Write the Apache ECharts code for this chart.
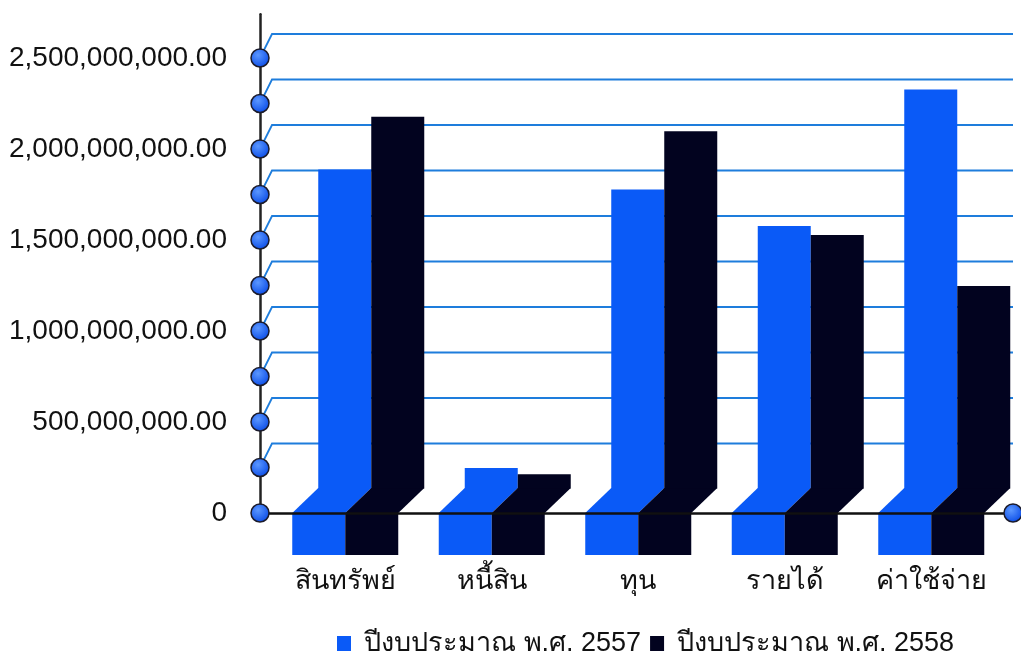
<!DOCTYPE html>
<html><head><meta charset="utf-8">
<script src="https://cdn.jsdelivr.net/npm/echarts@6/dist/echarts.min.js"></script>
<style>html,body{margin:0;padding:0;background:#fff}#c{width:1021px;height:655px}</style>
</head><body><div id="c"></div>
<script>
// ---- data ----
const categories = ['สินทรัพย์', 'หนี้สิน', 'ทุน', 'รายได้', 'ค่าใช้จ่าย'];
const seriesNames = ['ปีงบประมาณ พ.ศ. 2557', 'ปีงบประมาณ พ.ศ. 2558'];
const budget2557 = [1750000000, 110000000, 1640000000, 1440000000, 2190000000];
const budget2558 = [2040000000, 75000000, 1960000000, 1390000000, 1110000000];
const tickValues = [0, 250000000, 500000000, 750000000, 1000000000, 1250000000,
  1500000000, 1750000000, 2000000000, 2250000000, 2500000000];
const labelValues = [0, 500000000, 1000000000, 1500000000, 2000000000, 2500000000];

// ---- styling constants ----
const BLUE = '#0a5af7';
const DARK = '#02031f';
const GRID_BLUE = '#1e7ddc';
const FONT = "'Liberation Sans', Arial, 'Noto Sans', sans-serif";
const Y_MAX = 2740000000;
const GRID_TOP = 14.3, GRID_H = 498.7;
const BAR_W = 53, DX = 26, DY = 25, DEPTH = 42;

const chart = echarts.init(document.getElementById('c'), null, {renderer: 'canvas'});

function fmt(v) {
  if (v === 0) return '0';
  if (labelValues.indexOf(v) < 0) return '';
  return v.toLocaleString('en-US', {minimumFractionDigits: 2, maximumFractionDigits: 2});
}

function barRenderer(s, color) {
  return function (params, api) {
    const i = api.value(0);
    const base = api.coord([i, 0]);
    const top = api.coord([i, api.value(1)]);
    const cx = base[0], y0 = base[1], yt = top[1];
    const x0 = cx - BAR_W + s * BAR_W;
    const st = {fill: color};
    return {
      type: 'group',
      children: [
        {type: 'rect', shape: {x: x0, y: y0, width: BAR_W, height: DEPTH}, style: st},
        {type: 'polygon', shape: {points: [[x0, y0], [x0 + BAR_W, y0], [x0 + BAR_W + DX, y0 - DY], [x0 + DX, y0 - DY]]}, style: st},
        {type: 'rect', shape: {x: x0 + DX, y: yt - DY, width: BAR_W, height: Math.max(0, y0 - yt) + 0.5}, style: st}
      ]
    };
  };
}

const markerFill = new echarts.graphic.RadialGradient(0.4, 0.35, 0.7, [
  {offset: 0, color: '#5b97ff'}, {offset: 1, color: '#0648e6'}
]);

const option = {
  backgroundColor: '#ffffff',
  animation: false,
  textStyle: {fontFamily: FONT},
  legend: {
    data: seriesNames,
    left: 332, top: 625,
    icon: 'rect', itemWidth: 14, itemHeight: 15, itemGap: 9,
    textStyle: {fontSize: 27, color: '#111', fontFamily: FONT, padding: [0, 0, 0, 8]}
  },
  grid: [
    {left: 260, right: 8, top: GRID_TOP, height: GRID_H},
    {left: 272, width: 732.5, top: GRID_TOP, height: GRID_H}
  ],
  xAxis: [
    {gridIndex: 0, type: 'value', min: 0, max: 1, z: 5,
      axisLine: {show: true, lineStyle: {color: '#111', width: 2.5}},
      axisTick: {show: false}, axisLabel: {show: false}, splitLine: {show: false}},
    {gridIndex: 1, type: 'category', data: categories,
      axisLine: {show: false}, axisTick: {show: false}, splitLine: {show: false},
      axisLabel: {interval: 0, margin: 55, fontSize: 27, color: '#111', fontFamily: FONT}}
  ],
  yAxis: [
    {gridIndex: 0, type: 'value', min: 0, max: Y_MAX, interval: 250000000, z: 1,
      axisLine: {show: true, lineStyle: {color: '#222', width: 2.5}},
      axisTick: {show: false}, splitLine: {show: false},
      axisLabel: {margin: 33, fontSize: 28, color: '#111', fontFamily: FONT, formatter: fmt}},
    {gridIndex: 1, type: 'value', min: 0, max: Y_MAX, interval: 250000000, show: false}
  ],
  series: [
    {
      type: 'custom', name: 'grid', xAxisIndex: 0, yAxisIndex: 0, z: 1, silent: true,
      data: tickValues.filter(v => v > 0).map(v => [0, v]),
      renderItem: function (params, api) {
        const p = api.coord([0, api.value(1)]);
        const right = params.coordSys.x + params.coordSys.width;
        return {
          type: 'polyline',
          shape: {points: [[p[0], p[1]], [p[0] + 12, p[1] - 24], [right, p[1] - 24]]},
          style: {stroke: GRID_BLUE, lineWidth: 1.8, fill: null}
        };
      }
    },
    {
      type: 'custom', name: seriesNames[0], xAxisIndex: 1, yAxisIndex: 1, z: 2,
      itemStyle: {color: BLUE},
      data: budget2557.map((v, i) => [i, v]),
      renderItem: barRenderer(0, BLUE)
    },
    {
      type: 'custom', name: seriesNames[1], xAxisIndex: 1, yAxisIndex: 1, z: 3,
      itemStyle: {color: DARK},
      data: budget2558.map((v, i) => [i, v]),
      renderItem: barRenderer(1, DARK)
    },
    {
      type: 'custom', name: 'markers', xAxisIndex: 0, yAxisIndex: 0, z: 10, silent: true,
      data: tickValues.map(v => [0, v]).concat([[1, 0]]),
      renderItem: function (params, api) {
        const p = api.coord([api.value(0), api.value(1)]);
        return {
          type: 'circle', shape: {cx: p[0], cy: p[1], r: 9},
          style: {fill: markerFill, stroke: '#1b1b2b', lineWidth: 1.5}
        };
      }
    }
  ]
};
chart.setOption(option);
</script>
</body></html>
